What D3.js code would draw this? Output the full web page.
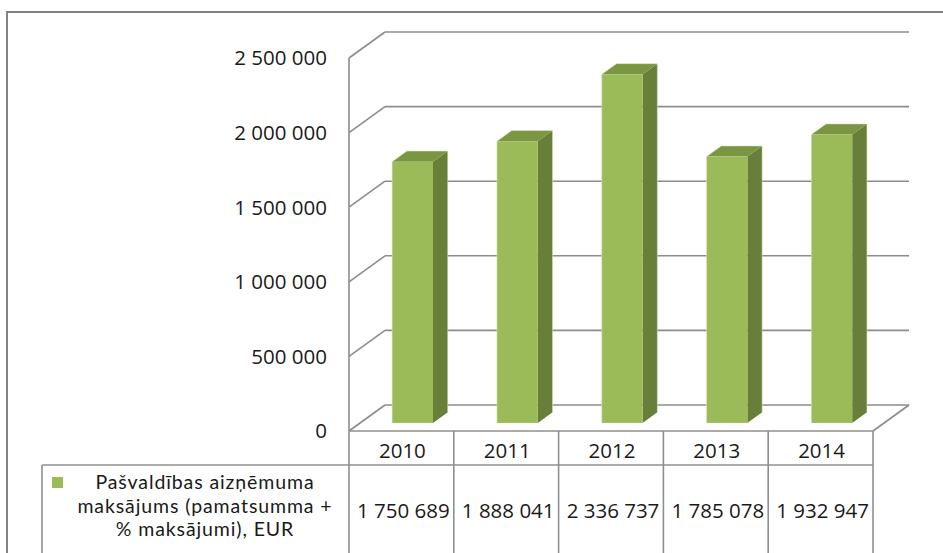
<!DOCTYPE html>
<html><head><meta charset="utf-8">
<script src="https://cdn.jsdelivr.net/npm/d3@7"></script>
<style>
html,body{margin:0;padding:0;background:#fff;}
svg{display:block;font-family:"Open Sans",sans-serif;}
</style></head>
<body>
<svg id="c" width="943" height="553"></svg>
<script>
const categories = ["2010","2011","2012","2013","2014"];
const values = [1750689, 1888041, 2336737, 1785078, 1932947];
const yTicks = [0, 500000, 1000000, 1500000, 2000000, 2500000];
const seriesName = ["Pašvaldības aizņēmuma", "maksājums (pamatsumma +", "% maksājumi), EUR"];

const svg = d3.select("#c");
const loc = d3.formatLocale({decimal: ",", thousands: "\u00a0", grouping: [3], currency: ["", " €"]});
const fmt = loc.format(",");

const x = d3.scaleBand().domain(categories).range([349, 873]).padding(0);
const y = d3.scaleLinear().domain([0, 2500000]).range([431, 58]);
const D = {dx: 36, dy: -26};   // depth of the 3D box
const gridCol = "#8c8c8c";
const F = "#9bbb59", S = "#687f3a", T = "#7a9642";

// outer border
svg.append("path").attr("d", "M7,553 V12 H943").attr("fill", "none")
  .attr("stroke", "#828282").attr("stroke-width", 2);

// back wall gridlines + side wall diagonals
const g = svg.append("g").attr("fill", "none").attr("stroke", gridCol).attr("stroke-width", 1.6);
yTicks.forEach(t => {
  const yf = y(t), yb = yf + D.dy;
  g.append("line").attr("x1", 349 + D.dx).attr("x2", 873 + D.dx).attr("y1", yb).attr("y2", yb);
  g.append("line").attr("x1", 349).attr("y1", yf).attr("x2", 349 + D.dx).attr("y2", yb);
});
g.append("line").attr("x1", 873).attr("y1", y(0)).attr("x2", 873 + D.dx).attr("y2", y(0) + D.dy);
g.append("line").attr("x1", 349).attr("y1", y(2500000)).attr("x2", 349).attr("y2", y(0));

// y labels
svg.append("g").selectAll("text").data(yTicks).join("text")
  .attr("x", 327).attr("y", d => y(d)).attr("dy", "0.36em")
  .attr("text-anchor", "end").attr("font-size", 20.5).attr("fill", "#1a1a1a")
  .text(d => fmt(d));

// bars
const f0 = 0.31, f1 = 0.72, bw = x.bandwidth() * 0.39;
const bars = svg.append("g");
categories.forEach((c, i) => {
  const v = values[i];
  const x0 = x(c) + (x.bandwidth() - bw) / 2 + D.dx * f0;
  const x1 = x0 + bw;
  const yt = y(v) + D.dy * f0, yb0 = y(0) + D.dy * f0;
  const ddx = D.dx * (f1 - f0), ddy = D.dy * (f1 - f0);
  bars.append("path").attr("d", `M${x1},${yt}L${x1+ddx},${yt+ddy}L${x1+ddx},${yb0+ddy}L${x1},${yb0}Z`)
    .attr("fill", S);
  bars.append("path").attr("d", `M${x0},${yt}L${x0+ddx},${yt+ddy}L${x1+ddx},${yt+ddy}L${x1},${yt}Z`)
    .attr("fill", T);
  bars.append("rect").attr("x", x0).attr("y", yt).attr("width", bw).attr("height", yb0 - yt)
    .attr("fill", F);
  bars.append("path").attr("d", `M${x0},${yb0}V${yt}L${x0+ddx},${yt+ddy}H${x1+ddx}V${yb0+ddy}`)
    .attr("fill", "none").attr("stroke", "#d8e6bd").attr("stroke-width", 0.8).attr("opacity", 0.7);
});

// data table
const tb = svg.append("g").attr("stroke", "#8f8f8f").attr("stroke-width", 1.6).attr("fill", "none");
tb.append("line").attr("x1", 349).attr("x2", 873).attr("y1", y(0)).attr("y2", y(0));
tb.append("line").attr("x1", 42).attr("x2", 873).attr("y1", 465).attr("y2", 465);
tb.append("line").attr("x1", 42).attr("x2", 42).attr("y1", 465).attr("y2", 553);
categories.concat(["end"]).forEach((c, i) => {
  const xx = i < categories.length ? x(c) : x(categories[categories.length-1]) + x.bandwidth();
  tb.append("line").attr("x1", xx).attr("x2", xx).attr("y1", y(0)).attr("y2", 553);
});

svg.append("g").selectAll("text").data(categories).join("text")
  .attr("x", d => x(d) + x.bandwidth() / 2 + 1).attr("y", 458)
  .attr("text-anchor", "middle").attr("font-size", 20.5).attr("fill", "#1a1a1a").text(d => d);

svg.append("g").selectAll("text").data(values).join("text")
  .attr("x", (d, i) => x(categories[i]) + x.bandwidth() / 2 + 2).attr("y", 518)
  .attr("text-anchor", "middle").attr("font-size", 20.5).attr("fill", "#1a1a1a").text(d => fmt(d));

// legend
svg.append("rect").attr("x", 52).attr("y", 477).attr("width", 11).attr("height", 11).attr("fill", F);
svg.append("g").selectAll("text").data(seriesName).join("text")
  .attr("x", 205).attr("y", (d, i) => 489 + i * 23.5)
  .attr("text-anchor", "middle").attr("font-family", "Lato, sans-serif")
  .attr("font-size", 19.5).attr("letter-spacing", 0.9).attr("fill", "#1a1a1a").text(d => d);
</script>
</body></html>
